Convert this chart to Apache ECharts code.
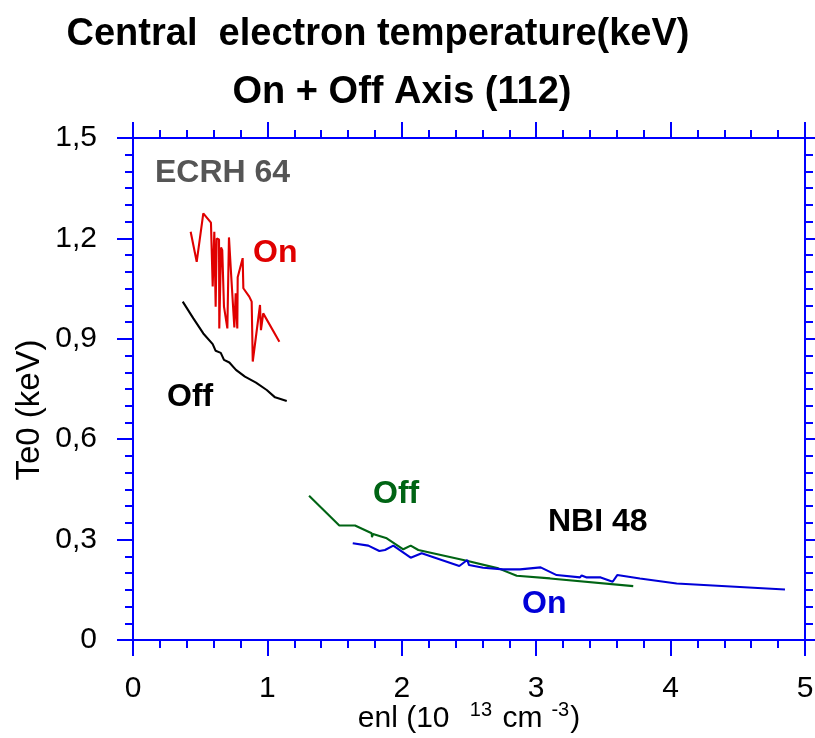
<!DOCTYPE html>
<html>
<head>
<meta charset="utf-8">
<script src="https://cdn.jsdelivr.net/npm/echarts@6/dist/echarts.min.js"></script>
<style>html,body{margin:0;padding:0;background:#fff}#c{width:815px;height:738px}</style>
</head>
<body>
<div id="c"></div>
<script>
// ECRH 64, On axis (red)
const ecrhOnX = [0.429,0.474,0.523,0.580,0.593,0.605,0.615,0.623,0.640,0.642,0.655,0.664,0.677,0.702,0.714,0.731,0.754,0.764,0.776,0.779,0.816,0.821,0.865,0.883,0.891,0.945,0.952,0.969,1.089];
const ecrhOnY = [1.220,1.130,1.275,1.247,1.056,1.220,0.996,1.200,1.197,0.931,1.173,1.165,0.996,0.931,1.203,1.086,0.934,1.036,0.931,1.084,1.141,1.051,1.026,1.011,0.832,1.001,0.926,0.976,0.891];
// ECRH 64, Off axis (black)
const ecrhOffX = [0.370,0.449,0.523,0.593,0.615,0.653,0.677,0.717,0.766,0.833,0.915,0.995,1.057,1.144];
const ecrhOffY = [1.011,0.961,0.916,0.884,0.864,0.858,0.837,0.829,0.807,0.787,0.769,0.747,0.725,0.714];
// NBI 48, Off axis (green)
const nbiOffX = [1.310,1.535,1.652,1.776,1.778,1.786,1.888,2.011,2.066,2.123,2.483,2.718,2.855,3.103,3.722];
const nbiOffY = [0.431,0.342,0.342,0.319,0.307,0.317,0.304,0.271,0.282,0.269,0.237,0.214,0.192,0.184,0.161];
// NBI 48, On axis (blue)
const nbiOnX = [1.635,1.751,1.833,1.875,1.937,2.066,2.148,2.428,2.487,2.500,2.606,2.755,2.879,3.033,3.152,3.326,3.338,3.376,3.480,3.569,3.603,3.772,4.045,4.851];
const nbiOnY = [0.289,0.282,0.266,0.269,0.282,0.246,0.259,0.221,0.239,0.224,0.216,0.211,0.211,0.217,0.194,0.187,0.193,0.187,0.187,0.174,0.194,0.184,0.169,0.151];

const xTicks = [0,1,2,3,4,5];
const yTicks = [0,0.3,0.6,0.9,1.2,1.5];

const titleText = 'Central  electron temperature(keV)';
const subtitleText = 'On + Off Axis (112)';
const yName = 'Te0 (keV)';

function pairs(xs, ys){ return xs.map((x,i)=>[x, ys[i]]); }

const AX = '#0000ff';
const FONT = '"Liberation Sans", Arial, sans-serif';

function xAxisDef(pos, labels){
  return {
    type:'value', position:pos, min:xTicks[0], max:xTicks[xTicks.length-1], interval:1,
    axisLine:{show:true, onZero:false, lineStyle:{color:AX, width:2}},
    axisTick:{show:true, inside:false, length:16, lineStyle:{color:AX, width:2}},
    minorTick:{show:true, splitNumber:5, length:8, lineStyle:{color:AX, width:2}},
    splitLine:{show:false}, minorSplitLine:{show:false},
    axisLabel:{show:labels, margin:34, color:'#000', fontSize:30, fontFamily:FONT},
  };
}
function yAxisDef(pos, labels){
  return {
    type:'value', position:pos, min:yTicks[0], max:yTicks[yTicks.length-1], interval:0.3,
    axisLine:{show:true, onZero:false, lineStyle:{color:AX, width:2}},
    axisTick:{show:true, inside:false, length:16, lineStyle:{color:AX, width:2}},
    minorTick:{show:true, splitNumber:6, length:8, lineStyle:{color:AX, width:2}},
    splitLine:{show:false}, minorSplitLine:{show:false},
    axisLabel:{show:labels, margin:36, color:'#000', fontSize:30, fontFamily:FONT,
      formatter:v=>String(Math.round(v*10)/10).replace('.', ',')},
  };
}

const chart = echarts.init(document.getElementById('c'), null, {renderer:'canvas'});
const xb = xAxisDef('bottom', true);
xb.name = '{n|enl (10 }{s|13}{n| cm}{t|-3}{n|)}';
xb.nameLocation = 'middle';
xb.nameGap = 60;
xb.nameMoveOverlap = false;
xb.nameTextStyle = {rich:{
  n:{fontSize:30, fontFamily:FONT, color:'#000'},
  s:{fontSize:20, fontFamily:FONT, color:'#000', padding:[0,2,18,12]},
  t:{fontSize:20, fontFamily:FONT, color:'#000', padding:[0,1,18,9]}
}};
const yl = yAxisDef('left', true);

function lineSeries(data, color, w){
  return {type:'line', data, showSymbol:false, symbol:'none', lineStyle:{color, width:w}, itemStyle:{color}, animation:false, z:3};
}

const B = {fontWeight:'bold', fontFamily:FONT};
chart.setOption({
  animation:false,
  grid:{left:133, right:10, top:138, bottom:98, containLabel:false, outerBoundsMode:'none'},
  xAxis:[xb, xAxisDef('top', false)],
  yAxis:[yl, yAxisDef('right', false)],
  series:[
    lineSeries(pairs(ecrhOnX, ecrhOnY), '#e00000', 2.1),
    lineSeries(pairs(ecrhOffX, ecrhOffY), '#000000', 2.1),
    lineSeries(pairs(nbiOffX, nbiOffY), '#006414', 2.1),
    lineSeries(pairs(nbiOnX, nbiOnY), '#0000d8', 2.1),
  ],
  graphic:[
    {type:'text', style:Object.assign({text:titleText, x:378, y:35, textAlign:'center', textVerticalAlign:'middle', fontSize:38, fill:'#000'}, B)},
    {type:'text', style:Object.assign({text:subtitleText, x:402, y:93, textAlign:'center', textVerticalAlign:'middle', fontSize:38, fill:'#000'}, B)},
    {type:'text', x:30, y:410, rotation:Math.PI/2, style:{text:yName, x:0, y:0, textAlign:'center', textVerticalAlign:'middle', fontSize:33, fontFamily:FONT, fill:'#000'}},
    {type:'text', style:Object.assign({text:'ECRH 64', x:155, y:173, textVerticalAlign:'middle', fontSize:32, fill:'#555555'}, B)},
    {type:'text', style:Object.assign({text:'On', x:253, y:253, textVerticalAlign:'middle', fontSize:32, fill:'#e00000'}, B)},
    {type:'text', style:Object.assign({text:'Off', x:167, y:397, textVerticalAlign:'middle', fontSize:32, fill:'#000000'}, B)},
    {type:'text', style:Object.assign({text:'Off', x:373, y:494, textVerticalAlign:'middle', fontSize:32, fill:'#006414'}, B)},
    {type:'text', style:Object.assign({text:'NBI 48', x:548, y:522, textVerticalAlign:'middle', fontSize:32, fill:'#000000'}, B)},
    {type:'text', style:Object.assign({text:'On', x:522, y:604, textVerticalAlign:'middle', fontSize:32, fill:'#0000d8'}, B)},
  ]
});
</script>
</body>
</html>
